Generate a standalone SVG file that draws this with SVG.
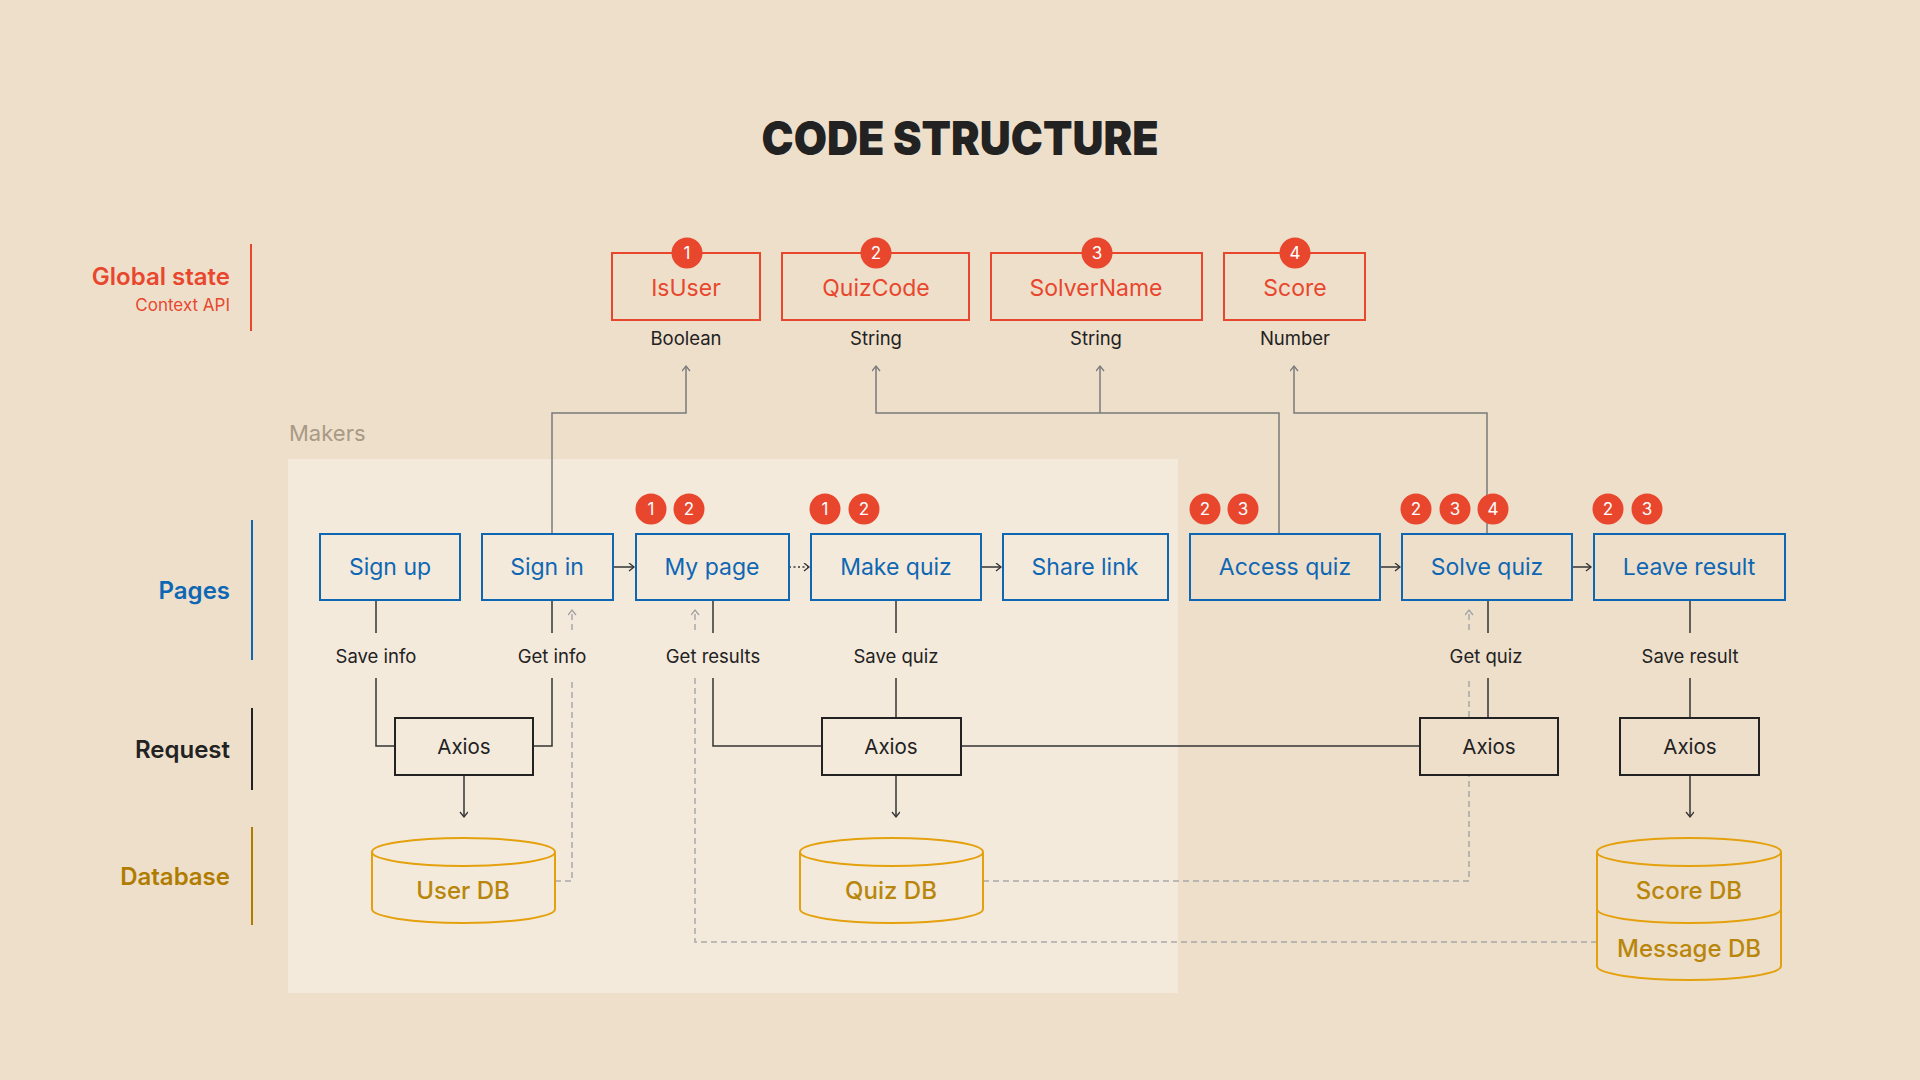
<svg xmlns="http://www.w3.org/2000/svg" width="1920" height="1080" viewBox="0 0 1920 1080">
<defs>
<style>
text{font-family:Inter,"Noto Sans","Liberation Sans",sans-serif}
.state rect{fill:none;stroke:#E8472E;stroke-width:2}
.state text.lbl{fill:#E8472E;font-size:23px;text-anchor:middle}
.type{fill:#222;font-size:18.5px;text-anchor:middle}
.badge circle{fill:#E8472E}
g.badge text{fill:#fff;font-size:17px;text-anchor:middle}
.page rect{fill:none;stroke:#0F67B3;stroke-width:2}
.page text.pl{fill:#0F67B3;font-size:23px;text-anchor:middle}
.req rect{stroke:#222;stroke-width:2}
.req text{fill:#222;font-size:20.5px;text-anchor:middle}
.db path,.db ellipse{stroke:#E5A10D;stroke-width:2}
.db text{fill:#B8860B;font-size:24px;text-anchor:middle;font-weight:500}
.clbl{fill:#222;font-size:18.5px;text-anchor:middle}
.up{fill:none;stroke:#7A7A7A;stroke-width:1.5}
.dn{fill:none;stroke:#333;stroke-width:1.5}
.dash{fill:none;stroke:#A8A8A8;stroke-width:1.5;stroke-dasharray:6 4}
.side{font-size:24px;font-weight:600;text-anchor:end}
</style>
<marker id="ag" markerWidth="10" markerHeight="10" refX="6" refY="4" orient="auto" markerUnits="userSpaceOnUse"><path d="M1,0 L6,4 L1,8" fill="none" stroke="#7A7A7A" stroke-width="1.3"/></marker>
<marker id="ad" markerWidth="10" markerHeight="10" refX="6" refY="4" orient="auto" markerUnits="userSpaceOnUse"><path d="M1,0 L6,4 L1,8" fill="none" stroke="#333" stroke-width="1.3"/></marker>
<marker id="al" markerWidth="10" markerHeight="10" refX="6" refY="4" orient="auto" markerUnits="userSpaceOnUse"><path d="M1,0 L6,4 L1,8" fill="none" stroke="#A0A0A0" stroke-width="1.3"/></marker>
</defs>
<rect width="1920" height="1080" fill="#EEDFCB"/>
<text x="960" y="155" text-anchor="middle" font-size="47" font-weight="900" fill="#222" textLength="397" lengthAdjust="spacingAndGlyphs">CODE STRUCTURE</text>

<g id="makers-panel">
<rect x="288" y="459" width="890" height="534" fill="#F4EADC"/>
<text x="289" y="441" font-size="22" fill="#A89A85">Makers</text>
</g>

<g id="side-labels">
<text class="side" x="230" y="285" fill="#E8472E">Global state</text>
<text x="230" y="311" font-size="17" text-anchor="end" fill="#E8472E">Context API</text>
<line x1="251" y1="244" x2="251" y2="331" stroke="#E8472E" stroke-width="2"/>
<text class="side" x="230" y="599" fill="#0F67B3">Pages</text>
<line x1="252" y1="520" x2="252" y2="660" stroke="#0F67B3" stroke-width="2"/>
<text class="side" x="230" y="758" fill="#222">Request</text>
<line x1="252" y1="708" x2="252" y2="790" stroke="#222" stroke-width="2"/>
<text class="side" x="230" y="885" fill="#B07C00">Database</text>
<line x1="252" y1="827" x2="252" y2="925" stroke="#B07C00" stroke-width="2"/>
</g>

<g id="connectors">
<path class="up" d="M552,534 V413 H686 V366" marker-end="url(#ag)"/>
<path class="up" d="M1279,534 V413 H876 V366" marker-end="url(#ag)"/>
<path class="up" d="M1100,413 V366" marker-end="url(#ag)"/>
<path class="up" d="M1487,534 V413 H1294 V366" marker-end="url(#ag)"/>
<path class="dn" d="M613,567 H634" marker-end="url(#ad)"/>
<path class="dn" d="M789,567 H809" stroke-dasharray="2 2.5" marker-end="url(#ad)"/>
<path class="dn" d="M981,567 H1001" marker-end="url(#ad)"/>
<path class="dn" d="M1380,567 H1400" marker-end="url(#ad)"/>
<path class="dn" d="M1572,567 H1591" marker-end="url(#ad)"/>
<path class="dn" d="M376,600 V633 M376,678 V746 H395"/>
<path class="dn" d="M552,600 V633 M552,678 V746 H533"/>
<path class="dn" d="M713,600 V633 M713,678 V746 H822"/>
<path class="dn" d="M896,600 V633 M896,678 V718"/>
<path class="dn" d="M961,746 H1420"/>
<path class="dn" d="M1488,600 V633 M1488,678 V718"/>
<path class="dn" d="M1690,600 V633 M1690,678 V718"/>
<path class="dn" d="M464,775 V817" marker-end="url(#ad)"/>
<path class="dn" d="M896,775 V817" marker-end="url(#ad)"/>
<path class="dn" d="M1690,775 V817" marker-end="url(#ad)"/>
<path class="dash" d="M555,881 H572 V678"/>
<path class="dash" d="M572,630 V610" marker-end="url(#al)"/>
<path class="dash" d="M1597,942 H695 V678"/>
<path class="dash" d="M695,630 V610" marker-end="url(#al)"/>
<path class="dash" d="M983,881 H1469 V678"/>
<path class="dash" d="M1469,630 V610" marker-end="url(#al)"/>
<text class="clbl" x="376" y="663">Save info</text>
<text class="clbl" x="552" y="663">Get info</text>
<text class="clbl" x="713" y="663">Get results</text>
<text class="clbl" x="896" y="663">Save quiz</text>
<text class="clbl" x="1486" y="663">Get quiz</text>
<text class="clbl" x="1690" y="663">Save result</text>
</g>

<g id="state-isuser" class="state"><rect x="612" y="253" width="148" height="67"/><text class="lbl" x="686" y="296">IsUser</text><text class="type" x="686" y="345">Boolean</text><g class="badge"><circle cx="687" cy="253" r="15.5"/><text x="687" y="259">1</text></g></g>
<g id="state-quizcode" class="state"><rect x="782" y="253" width="187" height="67"/><text class="lbl" x="876" y="296">QuizCode</text><text class="type" x="876" y="345">String</text><g class="badge"><circle cx="876" cy="253" r="15.5"/><text x="876" y="259">2</text></g></g>
<g id="state-solvername" class="state"><rect x="991" y="253" width="211" height="67"/><text class="lbl" x="1096" y="296">SolverName</text><text class="type" x="1096" y="345">String</text><g class="badge"><circle cx="1097" cy="253" r="15.5"/><text x="1097" y="259">3</text></g></g>
<g id="state-score" class="state"><rect x="1224" y="253" width="141" height="67"/><text class="lbl" x="1295" y="296">Score</text><text class="type" x="1295" y="345">Number</text><g class="badge"><circle cx="1295" cy="253" r="15.5"/><text x="1295" y="259">4</text></g></g>

<g id="page-signup" class="page"><rect x="320" y="534" width="140" height="66"/><text class="pl" x="390" y="575">Sign up</text></g>
<g id="page-signin" class="page"><rect x="482" y="534" width="131" height="66"/><text class="pl" x="547" y="575">Sign in</text></g>
<g id="page-mypage" class="page"><rect x="636" y="534" width="153" height="66"/><text class="pl" x="712" y="575">My page</text>
<g class="badge"><circle cx="651" cy="509" r="15.5"/><text x="651" y="515">1</text><circle cx="689" cy="509" r="15.5"/><text x="689" y="515">2</text></g></g>
<g id="page-makequiz" class="page"><rect x="811" y="534" width="170" height="66"/><text class="pl" x="896" y="575">Make quiz</text>
<g class="badge"><circle cx="825" cy="509" r="15.5"/><text x="825" y="515">1</text><circle cx="864" cy="509" r="15.5"/><text x="864" y="515">2</text></g></g>
<g id="page-sharelink" class="page"><rect x="1003" y="534" width="165" height="66"/><text class="pl" x="1085" y="575">Share link</text></g>
<g id="page-accessquiz" class="page"><rect x="1190" y="534" width="190" height="66"/><text class="pl" x="1285" y="575">Access quiz</text>
<g class="badge"><circle cx="1205" cy="509" r="15.5"/><text x="1205" y="515">2</text><circle cx="1243" cy="509" r="15.5"/><text x="1243" y="515">3</text></g></g>
<g id="page-solvequiz" class="page"><rect x="1402" y="534" width="170" height="66"/><text class="pl" x="1487" y="575">Solve quiz</text>
<g class="badge"><circle cx="1416" cy="509" r="15.5"/><text x="1416" y="515">2</text><circle cx="1455" cy="509" r="15.5"/><text x="1455" y="515">3</text><circle cx="1493" cy="509" r="15.5"/><text x="1493" y="515">4</text></g></g>
<g id="page-leaveresult" class="page"><rect x="1594" y="534" width="191" height="66"/><text class="pl" x="1689" y="575">Leave result</text>
<g class="badge"><circle cx="1608" cy="509" r="15.5"/><text x="1608" y="515">2</text><circle cx="1647" cy="509" r="15.5"/><text x="1647" y="515">3</text></g></g>

<g id="axios-1" class="req"><rect x="395" y="718" width="138" height="57" fill="#F4EADC"/><text x="464" y="754">Axios</text></g>
<g id="axios-2" class="req"><rect x="822" y="718" width="139" height="57" fill="#F4EADC"/><text x="891" y="754">Axios</text></g>
<g id="axios-3" class="req"><rect x="1420" y="718" width="138" height="57" fill="#EEDFCB"/><text x="1489" y="754">Axios</text></g>
<g id="axios-4" class="req"><rect x="1620" y="718" width="139" height="57" fill="#EEDFCB"/><text x="1690" y="754">Axios</text></g>

<g id="db-user" class="db"><path d="M372,852 V909 A91.5,14 0 0 0 555,909 V852" fill="#F4EADC"/><ellipse cx="463.5" cy="852" rx="91.5" ry="14" fill="#F4EADC"/><text x="463" y="899">User DB</text></g>
<g id="db-quiz" class="db"><path d="M800,852 V909 A91.5,14 0 0 0 983,909 V852" fill="#F4EADC"/><ellipse cx="891.5" cy="852" rx="91.5" ry="14" fill="#F4EADC"/><text x="891" y="899">Quiz DB</text></g>
<g id="db-score-message" class="db"><path d="M1597,852 V966 A92,14 0 0 0 1781,966 V852" fill="#EEDFCB"/><path d="M1597,909 A92,14 0 0 0 1781,909" fill="none"/><ellipse cx="1689" cy="852" rx="92" ry="14" fill="#EEDFCB"/><text x="1689" y="899">Score DB</text><text x="1689" y="957">Message DB</text></g>
</svg>
